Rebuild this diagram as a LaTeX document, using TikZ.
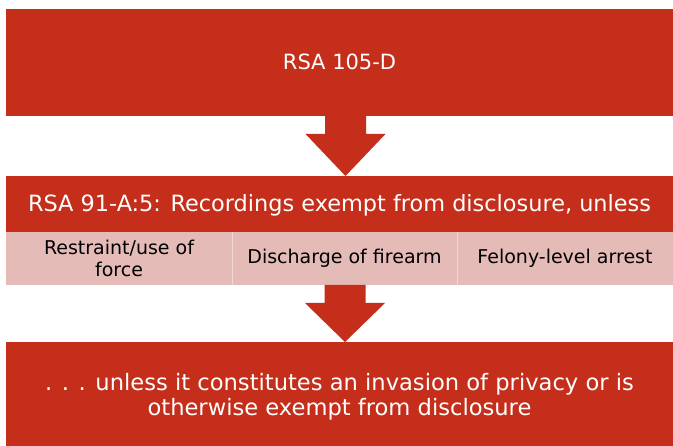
\documentclass[tikz,border=0pt]{standalone}
\usepackage{fontspec}
\setmainfont{DejaVu Sans}
\usetikzlibrary{calc}
\definecolor{rsared}{RGB}{196,46,26}
\definecolor{rsapink}{RGB}{229,187,184}
\definecolor{rsaline}{RGB}{240,214,212}
\tikzset{
  redbox/.style={fill=rsared, text=white, inner sep=0pt, outer sep=0pt, anchor=north west, align=center},
  whitetext/.style={text=white, inner sep=0pt, align=center},
  cellbox/.style={fill=rsapink, text=black, inner sep=0pt, outer sep=0pt, anchor=north west, align=center, minimum height=53pt},
  blockarrow/.style={fill=rsared}
}
\newcommand\drawblockarrow[2]{%
  \fill[blockarrow] ($(#1)+(-20.5,0)$) -- ($(#1)+(20.5,0)$) -- ($(#1)+(20.5,18)$) -- ($(#1)+(40,18)$) -- (#2) -- ($(#1)+(-40,18)$) -- ($(#1)+(-20.5,18)$) -- cycle;}
\begin{document}
\begin{tikzpicture}[x=1pt,y=-1pt]
\useasboundingbox (0,0) rectangle (673,446);
\fill[white] (0,0) rectangle (673,446);
% top box
\node[redbox, minimum width=667pt, minimum height=107pt] (top) at (6,9) {};
\node[whitetext, font=\fontsize{21}{25}\selectfont] (toptxt) at ($(top.center)+(0,-0.5)$) {RSA 105-D};
% header
\node[redbox, minimum width=667pt, minimum height=56pt] (head) at (6,176) {};
\node[whitetext, font=\fontsize{22.4}{27}\selectfont] (headtxt) at ($(head.center)+(0,1.5)$) {RSA 91-A:5: Recordings exempt from disclosure, unless};
% cells
\node[cellbox, minimum width=226pt, font=\fontsize{19}{21.5}\selectfont] (c1) at (6,232) {Restraint/use of\\force};
\node[cellbox, minimum width=225pt, font=\fontsize{19}{21}\selectfont] (c2) at (232,232) {Discharge of firearm};
\node[cellbox, minimum width=216pt, font=\fontsize{19}{21}\selectfont] (c3) at (457,232) {Felony-level arrest};
\draw[rsaline, line width=1pt] (c1.north east) -- (c1.south east);
\draw[rsaline, line width=1pt] (c2.north east) -- (c2.south east);
% bottom box
\node[redbox, minimum width=667pt, minimum height=104pt] (bot) at (6,342) {};
\node[whitetext, font=\fontsize{22.6}{25}\selectfont] (bottxt) at ($(bot.center)+(0,2.5)$) {. . . unless it constitutes an invasion of privacy or is\\otherwise exempt from disclosure};
% arrows
\coordinate (a1s) at ($(top.south west)+(339.5,0)$);
\coordinate (a1t) at (head.north -| a1s);
\drawblockarrow{a1s}{a1t}
\coordinate (a2s) at ($(c2.south west)+(113,0)$);
\coordinate (a2t) at (bot.north -| a2s);
\drawblockarrow{a2s}{a2t}
\end{tikzpicture}
\end{document}
